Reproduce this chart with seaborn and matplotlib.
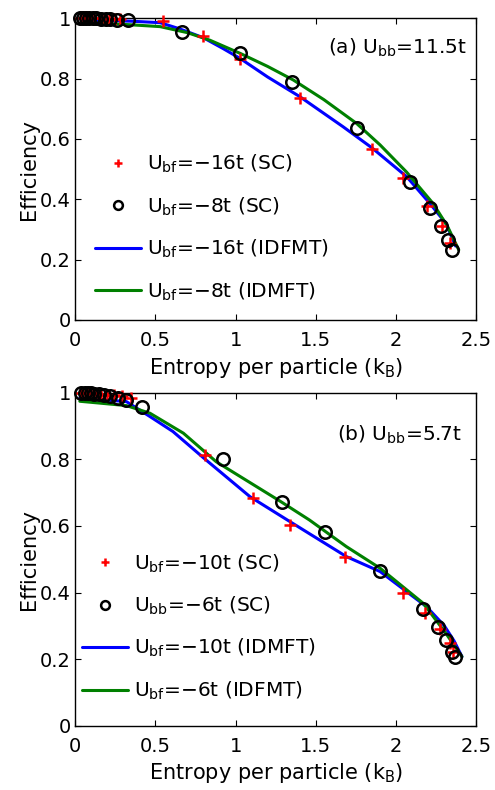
import numpy as np
import matplotlib
matplotlib.use("Agg")
import matplotlib.pyplot as plt
import seaborn as sns

# ---- panel (a): U_bb = 11.5t ----
a_sc16_x = [0.04, 0.06, 0.08, 0.10, 0.12, 0.15, 0.18, 0.21, 0.25, 0.28,
            0.55, 0.80, 1.03, 1.40, 1.847, 2.044, 2.19, 2.283, 2.335]
a_sc16_y = [1.0, 1.0, 1.0, 1.0, 0.999, 0.999, 0.998, 0.998, 0.997, 0.996,
            0.99, 0.94, 0.865, 0.734, 0.565, 0.469, 0.378, 0.312, 0.255]
a_sc8_x = [0.03, 0.05, 0.07, 0.09, 0.11, 0.13, 0.16, 0.19, 0.22, 0.26, 0.33,
           0.664, 1.03, 1.35, 1.754, 2.086, 2.21, 2.28, 2.325, 2.345]
a_sc8_y = [1.0, 1.0, 1.0, 1.0, 0.999, 0.999, 0.998, 0.997, 0.996, 0.995, 0.993,
           0.955, 0.883, 0.79, 0.635, 0.458, 0.372, 0.31, 0.265, 0.232]
a_dm16_x = [0.04, 0.2, 0.35, 0.53, 0.65, 0.8, 0.92, 1.03, 1.2, 1.4,
            1.67, 1.85, 2.065, 2.21, 2.31, 2.37]
a_dm16_y = [0.994, 0.992, 0.99, 0.985, 0.965, 0.935, 0.90, 0.866, 0.805, 0.74,
            0.64, 0.57, 0.475, 0.386, 0.32, 0.245]
a_dm8_x = [0.04, 0.2, 0.35, 0.53, 0.7, 0.84, 1.03, 1.2, 1.36, 1.55,
           1.754, 1.9, 2.065, 2.23, 2.32, 2.39]
a_dm8_y = [0.985, 0.982, 0.978, 0.972, 0.952, 0.927, 0.883, 0.84, 0.795, 0.73,
           0.651, 0.58, 0.49, 0.386, 0.31, 0.232]

# ---- panel (b): U_bb = 5.7t ----
b_sc10_x = [0.04, 0.06, 0.08, 0.10, 0.13, 0.16, 0.20, 0.24, 0.29, 0.35,
            0.81, 1.11, 1.339, 1.68, 2.044, 2.18, 2.27, 2.335, 2.355]
b_sc10_y = [1.0, 1.0, 1.0, 0.999, 0.998, 0.997, 0.995, 0.993, 0.99, 0.985,
            0.814, 0.683, 0.603, 0.508, 0.397, 0.337, 0.29, 0.247, 0.22]
b_sc6_x = [0.04, 0.06, 0.08, 0.10, 0.12, 0.15, 0.18, 0.22, 0.27, 0.32, 0.42,
           0.92, 1.287, 1.557, 1.90, 2.17, 2.262, 2.31, 2.345, 2.366]
b_sc6_y = [1.0, 1.0, 1.0, 0.999, 0.998, 0.996, 0.993, 0.99, 0.985, 0.978, 0.958,
           0.80, 0.673, 0.583, 0.466, 0.349, 0.295, 0.257, 0.222, 0.207]
b_dm10_x = [0.03, 0.32, 0.467, 0.61, 0.80, 1.09, 1.339, 1.69, 1.90, 2.19, 2.30, 2.36, 2.41]
b_dm10_y = [0.985, 0.974, 0.929, 0.884, 0.805, 0.688, 0.613, 0.508, 0.463, 0.357, 0.30, 0.255, 0.207]
b_dm6_x = [0.03, 0.32, 0.467, 0.675, 0.88, 1.276, 1.46, 1.69, 1.90, 2.17, 2.31, 2.41]
b_dm6_y = [0.975, 0.962, 0.939, 0.879, 0.793, 0.675, 0.618, 0.538, 0.473, 0.367, 0.277, 0.207]

xticks = [0, 0.5, 1, 1.5, 2, 2.5]
xticklabels = ['0', '0.5', '1', '1.5', '2', '2.5']
yticks = [0, 0.2, 0.4, 0.6, 0.8, 1]
yticklabels = ['0', '0.2', '0.4', '0.6', '0.8', '1']

sns.set_style("ticks", {"xtick.direction": "in", "ytick.direction": "in"})
plt.rcParams['font.family'] = ['DejaVu Sans']
plt.rcParams['mathtext.fontset'] = 'dejavusans'
plt.rcParams['text.color'] = 'black'
plt.rcParams['axes.labelcolor'] = 'black'

fig = plt.figure(figsize=(4.95, 7.9), dpi=100)
ax1 = fig.add_axes([0.1515, 0.595, 0.811, 0.382])
ax2 = fig.add_axes([0.1515, 0.0816, 0.811, 0.421])


def draw_panel(ax, sc1, sc2, dm1, dm2, labels):
    sns.lineplot(x=sc1[0], y=sc1[1], ax=ax, sort=False, estimator=None,
                 linestyle='', marker='+', markersize=9, color='red',
                 markeredgecolor='red', markeredgewidth=1.8,
                 label=labels[0], clip_on=False, zorder=4)
    sns.lineplot(x=sc2[0], y=sc2[1], ax=ax, sort=False, estimator=None,
                 linestyle='', marker='o', markersize=9, color='black',
                 markerfacecolor='none', markeredgecolor='black',
                 markeredgewidth=1.8, label=labels[1], clip_on=False, zorder=4)
    sns.lineplot(x=dm1[0], y=dm1[1], ax=ax, sort=False, estimator=None,
                 color='#0000ff', linewidth=2.2, label=labels[2], zorder=3)
    sns.lineplot(x=dm2[0], y=dm2[1], ax=ax, sort=False, estimator=None,
                 color='#008000', linewidth=2.2, label=labels[3], zorder=3)

    ax.set_xlim(0, 2.5)
    ax.set_ylim(0, 1)
    ax.set_xticks(xticks)
    ax.set_xticklabels(xticklabels)
    ax.set_yticks(yticks)
    ax.set_yticklabels(yticklabels)
    ax.tick_params(axis='both', which='both', direction='in', top=True, right=True,
                   length=4, width=0.8, labelsize=14, colors='black')
    ax.tick_params(axis='x', pad=8)
    ax.tick_params(axis='y', pad=3)
    for sp in ax.spines.values():
        sp.set_visible(True)
        sp.set_linewidth(1.0)
        sp.set_color('black')
    ax.set_xlabel('Entropy per particle (k$_{\\rm B}$)', fontsize=15, labelpad=4)
    ax.set_ylabel('Efficiency', fontsize=15, labelpad=1)


draw_panel(ax1, (a_sc16_x, a_sc16_y), (a_sc8_x, a_sc8_y),
           (a_dm16_x, a_dm16_y), (a_dm8_x, a_dm8_y),
           ['U$_{\\rm bf}$=\u221216t (SC)', 'U$_{\\rm bf}$=\u22128t (SC)',
            'U$_{\\rm bf}$=\u221216t (IDFMT)', 'U$_{\\rm bf}$=\u22128t (IDMFT)'])
draw_panel(ax2, (b_sc10_x, b_sc10_y), (b_sc6_x, b_sc6_y),
           (b_dm10_x, b_dm10_y), (b_dm6_x, b_dm6_y),
           ['U$_{\\rm bf}$=\u221210t (SC)', 'U$_{\\rm bb}$=\u22126t (SC)',
            'U$_{\\rm bf}$=\u221210t (IDMFT)', 'U$_{\\rm bf}$=\u22126t (IDFMT)'])

ax1.legend(loc='center left', bbox_to_anchor=(0.05, 0.305), frameon=False,
           fontsize=14.5, handlelength=2.3, handletextpad=0.3, labelspacing=1.0,
           borderpad=0, borderaxespad=0, markerscale=0.7)
ax2.legend(loc='center left', bbox_to_anchor=(0.017, 0.296), frameon=False,
           fontsize=14.5, handlelength=2.3, handletextpad=0.3, labelspacing=1.0,
           borderpad=0, borderaxespad=0, markerscale=0.7)

ax1.text(2.44, 0.90, '(a) U$_{\\rm bb}$=11.5t', ha='right', va='center', fontsize=14.5)
ax2.text(2.41, 0.874, '(b) U$_{\\rm bb}$=5.7t', ha='right', va='center', fontsize=14.5)

fig.savefig('out.png', dpi=100, facecolor='white')
